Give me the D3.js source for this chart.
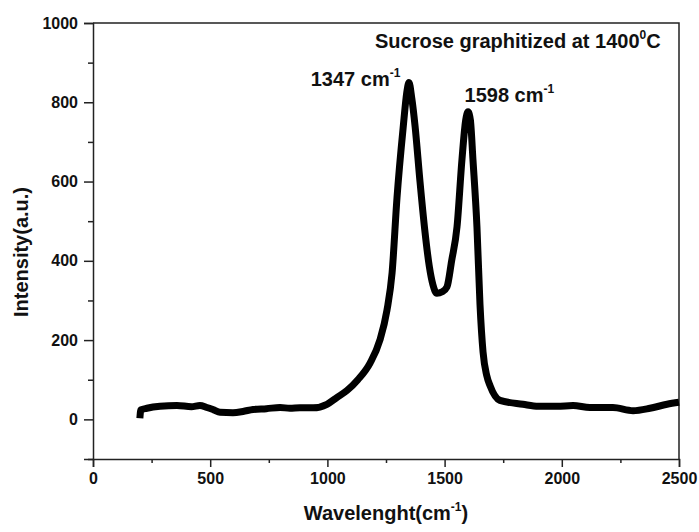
<!DOCTYPE html>
<html>
<head>
<meta charset="utf-8">
<script src="https://cdn.jsdelivr.net/npm/d3@7"></script>
<style>
  body { margin: 0; background: #fff; }
  svg text { font-family: "Liberation Sans", Arial, sans-serif; font-weight: bold; fill: #111; }
</style>
</head>
<body>
<div id="chart"></div>
<script>
// Raman spectrum
const wavenumber = [200, 204, 230, 286, 358, 420, 456, 486, 515, 542, 597, 640, 683, 740, 798, 840, 883, 939, 998,
  1040, 1084, 1130, 1182, 1224, 1254, 1276, 1297, 1323, 1340, 1348, 1360, 1374, 1395, 1415, 1435, 1450, 1467, 1490,
  1510, 1530, 1553, 1574, 1590, 1600, 1610, 1621, 1638, 1651, 1664, 1680, 1694, 1736, 1834, 1900, 1980, 2048,
  2120, 2218, 2304, 2376, 2449, 2500];
const intensity = [3, 24, 28, 33, 35, 32, 35, 30, 24, 18, 17, 20, 25, 27, 30, 28, 29, 29, 38,
  55, 73, 100, 142, 200, 275, 370, 560, 735, 830, 850, 810, 740, 600, 480, 385, 340, 318, 322,
  334, 400, 486, 655, 755, 776, 755, 655, 486, 290, 170, 110, 85, 48, 38, 33, 33, 35,
  30, 30, 22, 28, 38, 43];

const xTicks = [0, 500, 1000, 1500, 2000, 2500];
const xMinor = [250, 750, 1250, 1750, 2250];
const yTicks = [0, 200, 400, 600, 800, 1000];
const yMinor = [-100, 100, 300, 500, 700, 900];

const peakLabels = [
  {x: 1347, y: 848, text: "1347 cm"},
  {x: 1598, y: 776, text: "1598 cm"}
];

const width = 699, height = 532;
const margin = {top: 23, right: 20, bottom: 73, left: 93};

const svg = d3.select("#chart").append("svg")
    .attr("width", width)
    .attr("height", height);

const x = d3.scaleLinear().domain([0, 2500]).range([margin.left, width - margin.right]);
const y = d3.scaleLinear().domain([-100, 1000]).range([height - margin.bottom, margin.top]);

const axisColor = "#222";

// frame (top and right)
svg.append("path")
    .attr("d", `M${x(0)},${y(1000)}H${x(2500)}V${y(-100)}`)
    .attr("fill", "none")
    .attr("stroke", axisColor)
    .attr("stroke-width", 1.5);

// bottom axis
svg.append("g")
    .attr("transform", `translate(0,${y(-100)})`)
    .call(d3.axisBottom(x).tickValues(xTicks).tickSize(8).tickPadding(6).tickFormat(d3.format("d")));
svg.append("g")
    .attr("transform", `translate(0,${y(-100)})`)
    .call(d3.axisBottom(x).tickValues(xMinor).tickSize(4).tickFormat(""))
    .select(".domain").remove();

// left axis
svg.append("g")
    .attr("transform", `translate(${x(0)},0)`)
    .call(d3.axisLeft(y).tickValues(yTicks).tickSize(9).tickPadding(6).tickFormat(d3.format("d")));
svg.append("g")
    .attr("transform", `translate(${x(0)},0)`)
    .call(d3.axisLeft(y).tickValues(yMinor).tickSize(5).tickFormat(""))
    .select(".domain").remove();

svg.selectAll(".domain, .tick line")
    .attr("stroke", axisColor)
    .attr("stroke-width", 1.5);
svg.selectAll(".tick text")
    .style("font-size", "16px")
    .style("font-family", "'Liberation Sans', Arial, sans-serif")
    .style("font-weight", "bold")
    .attr("fill", "#111");

// the spectrum
const pts = wavenumber.map((w, i) => [w, intensity[i]]);
const line = d3.line()
    .x(d => x(d[0]))
    .y(d => y(d[1]))
    .curve(d3.curveMonotoneX);

svg.append("path")
    .datum(pts)
    .attr("d", line)
    .attr("fill", "none")
    .attr("stroke", "#000")
    .attr("stroke-width", 7)
    .attr("stroke-linejoin", "round");

// peak labels
svg.selectAll(".peak")
  .data(peakLabels)
  .enter()
  .append("text")
    .attr("class", "peak")
    .attr("x", (d, i) => i == 0 ? x(d.x) - 98 : x(d.x) - 3)
    .attr("y", d => y(d.y) + (d.x == 1347 ? 3 : -10))
    .style("font-size", "20px")
    .each(function(d) {
        const t = d3.select(this);
        t.append("tspan").text(d.text);
        t.append("tspan").attr("dy", -9).style("font-size", "12px").text("-1");
    });

// title
const title = svg.append("text")
    .attr("x", 375)
    .attr("y", 48)
    .style("font-size", "20px");
title.append("tspan").text("Sucrose graphitized at 1400");
title.append("tspan").attr("dy", -9).style("font-size", "12px").text("0");
title.append("tspan").attr("dy", 9).text("C");

// axis titles
const xl = svg.append("text")
    .attr("x", (x(0) + x(2500)) / 2)
    .attr("y", 520)
    .attr("text-anchor", "middle")
    .style("font-size", "20px");
xl.append("tspan").text("Wavelenght(cm");
xl.append("tspan").attr("dy", -9).style("font-size", "12px").text("-1");
xl.append("tspan").attr("dy", 9).text(")");

svg.append("text")
    .attr("transform", "translate(28,252) rotate(-90)")
    .attr("text-anchor", "middle")
    .style("font-size", "20px")
    .text("Intensity(a.u.)");
</script>
</body>
</html>
